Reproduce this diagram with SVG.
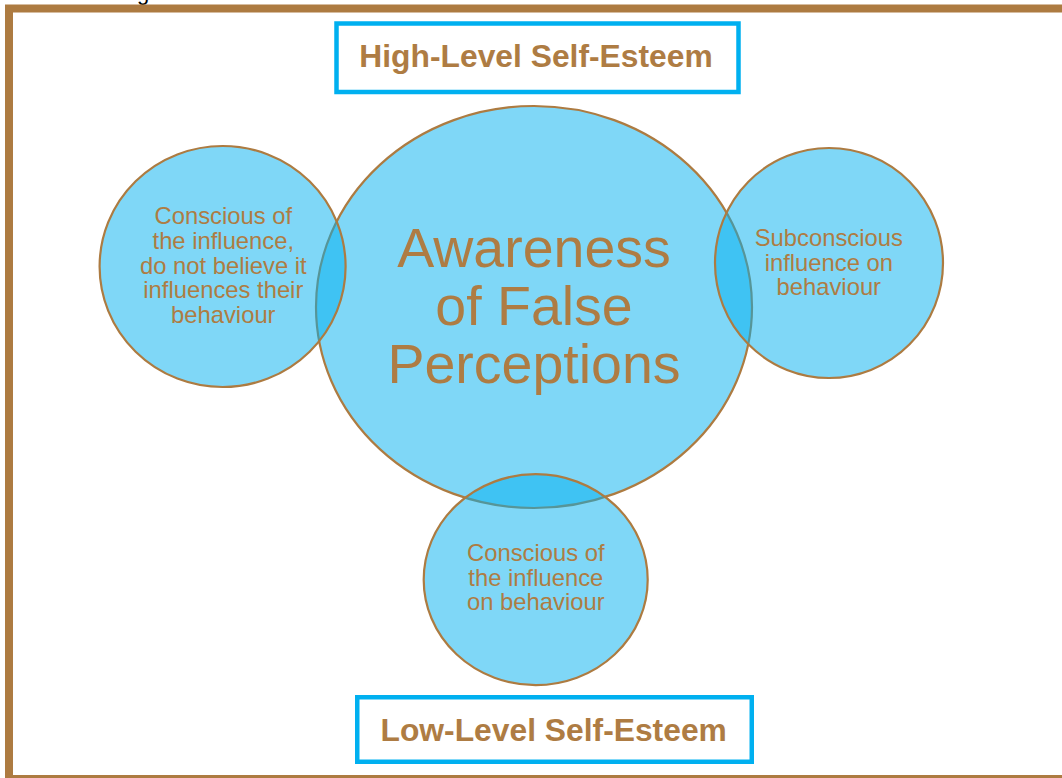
<svg xmlns="http://www.w3.org/2000/svg" width="1062" height="778" viewBox="0 0 1062 778">
  <style>
    .frame { fill: none; stroke: #AD7B41; stroke-width: 8; }
    .bubble { fill: #00B0F0; fill-opacity: 0.5; stroke: #AD7B41; stroke-width: 2.2; }
    .label { font-family: "Liberation Sans", Arial, sans-serif; fill: #AE7C43; text-anchor: middle; }
    .small { font-size: 23.8px; }
    .big { font-size: 55.5px; }
    .tag { fill: #FFFFFF; stroke: #00B0F0; stroke-width: 4.5; }
    .tagtext { font-size: 31.8px; font-weight: bold; }
  </style>

  <rect width="1062" height="778" fill="#FFFFFF"/>

  <!-- caption descender peeking above the frame -->
  <text x="137" y="-0.5" font-family="Liberation Sans, Arial, sans-serif" font-size="22" fill="#000000">g</text>

  <!-- outer frame, right and bottom edges run past the canvas -->
  <rect class="frame" x="9" y="8.5" width="1100" height="770.5"/>

  <g id="high-level">
    <rect class="tag" x="336.5" y="23.5" width="402" height="68.5"/>
    <text class="label tagtext" x="536" y="66.7">High-Level Self-Esteem</text>
  </g>

  <g id="awareness">
    <ellipse class="bubble" cx="534" cy="307" rx="218" ry="201"/>
    <text class="label big" x="534" y="266.7">Awareness</text>
    <text class="label big" x="534" y="325">of False</text>
    <text class="label big" x="534" y="382.7">Perceptions</text>
  </g>

  <g id="conscious-not-believe">
    <ellipse class="bubble" cx="222.6" cy="266.5" rx="123" ry="120.5"/>
    <text class="label small" x="223.3" y="224">Conscious of</text>
    <text class="label small" x="223.3" y="249">the influence,</text>
    <text class="label small" x="223.3" y="273.5">do not believe it</text>
    <text class="label small" x="223.3" y="298.3">influences their</text>
    <text class="label small" x="223.3" y="323.2">behaviour</text>
  </g>

  <g id="subconscious">
    <ellipse class="bubble" cx="829" cy="263" rx="114" ry="115"/>
    <text class="label small" x="828.8" y="246">Subconscious</text>
    <text class="label small" x="828.8" y="270.5">influence on</text>
    <text class="label small" x="828.8" y="295">behaviour</text>
  </g>

  <g id="conscious-on-behaviour">
    <ellipse class="bubble" cx="535.7" cy="579.7" rx="112" ry="105.5"/>
    <text class="label small" x="535.8" y="560.7">Conscious of</text>
    <text class="label small" x="535.8" y="585.7">the influence</text>
    <text class="label small" x="535.8" y="610">on behaviour</text>
  </g>

  <g id="low-level">
    <rect class="tag" x="357.25" y="697.25" width="394.5" height="64.5"/>
    <text class="label tagtext" x="553.7" y="740.7">Low-Level Self-Esteem</text>
  </g>
</svg>
